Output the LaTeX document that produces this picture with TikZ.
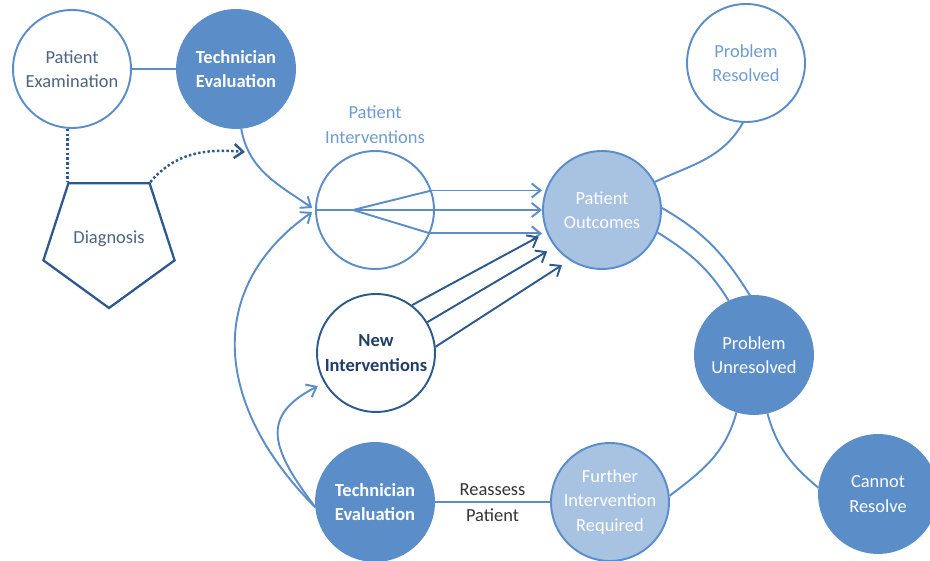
\documentclass[tikz,border=0pt]{standalone}
\usepackage{fontspec}
\setmainfont{Carlito}
\usetikzlibrary{arrows.meta,shapes.geometric,positioning}
\definecolor{midblue}{HTML}{5B8DC9}
\definecolor{lightfill}{HTML}{A8C2E2}
\definecolor{darkblue}{HTML}{2C5A8C}
\definecolor{slate}{HTML}{4D6480}
\definecolor{paleblue}{HTML}{6E9BD1}
\definecolor{navy}{HTML}{1F3E66}

\begin{document}
\begin{tikzpicture}[x=0.02cm,y=0.02cm,>={Straight Barb[length=5pt,width=8pt]},
		line width=1.1pt,font=\fontsize{10.5}{14}\selectfont,
		base node/.style={circle,draw=midblue,line width=1.1pt,minimum size=2.36cm,inner sep=0pt,align=center},
		open node/.style={base node,fill=white,text=slate},
		full node/.style={base node,fill=midblue,text=white},
		pale node/.style={base node,fill=lightfill,text=white},
		link/.style={midblue},
		dark link/.style={darkblue,->},
		dot link/.style={darkblue,line width=1.4pt,dash pattern=on 1.4pt off 1.3pt}]
		
		\useasboundingbox (0,0) rectangle (930,561);
		
		\node[open node](pe) at (72,492){Patient\\Examination};
		\node[full node,font=\fontsize{10.5}{14}\selectfont\bfseries](te1) at (236,492){Technician\\Evaluation};
		\node[regular polygon,regular polygon sides=5,shape border rotate=180,draw=darkblue,line width=1.3pt,
			minimum size=2.76cm,inner sep=0pt,text=slate](dg) at (109,322){Diagnosis};
		\node[base node](pi) at (375,351){};
		\node[text=paleblue,align=center,above=0pt of pi](pil){Patient\\Interventions};
		\node[pale node](po) at (602,351){Patient\\Outcomes};
		\node[base node,text=paleblue](pr) at (746,498){Problem\\Resolved};
		\node[full node](pu) at (754,206){Problem\\Unresolved};
		\node[full node](cr) at (878,67){Cannot\\Resolve};
		\node[base node,draw=darkblue,text=navy,font=\fontsize{10.5}{14}\selectfont\bfseries](ni) at (376,208){New\\Interventions};
		\node[full node,font=\fontsize{10.5}{14}\selectfont\bfseries](te2) at (375,59){Technician\\Evaluation};
		\node[pale node](fi) at (610,59){Further\\Intervention\\Required};
		
		\coordinate (dt) at (245,409);
		\coordinate (fk) at (353,351);
		\coordinate (ia) at (pi.19);
		\coordinate (ib) at (pi.-23);
		
		\path[link]
		(pe) edge (te1)
		(po.28) edge [out=25,in=-120] (pr.-93)
		(po.2) edge [out=-30,in=122] (pu.94)
		(po.-22) edge [out=-32,in=122] (pu.115)
		(pu.-107) edge [out=-105,in=37] (fi.6)
		(pu.-77) edge [out=-75,in=140] (cr.174);
		
		\draw[link] (ia) -- (fk) -- (ib);
		\draw[link,->] (pi.west) -- (pi.west -| po.west);
		\draw[link,->] (ia) -- (ia -| po.west);
		\draw[link,->] (ib) -- (ib -| po.west);
		
		\path[link,->]
		(te1.-85) edge [out=-80,in=145,shorten >=2pt] (pi.west)
		(te2.185) edge [out=135,in=-145,looseness=1.2,shorten >=2pt] (pi.west)
		(te2.185) edge [out=127,in=-153,looseness=1.5,shorten >=4pt] (ni.-150);
		
		\foreach \a/\b in {53/202,31/218,6/237}
		\draw[dark link,shorten >=5pt] (ni.\a) -- (po.\b);
		
		\draw[dot link] (dg.corner 4 |- pe.south) -- (dg.corner 4);
		\draw[dot link,->] (dg.corner 3) to[out=50,in=175] (dt);
		
		\draw[link] (te2) -- node[above,text=black!80]{Reassess} node[below,text=black!80]{Patient} (fi);
		
	\end{tikzpicture}
\end{document}
